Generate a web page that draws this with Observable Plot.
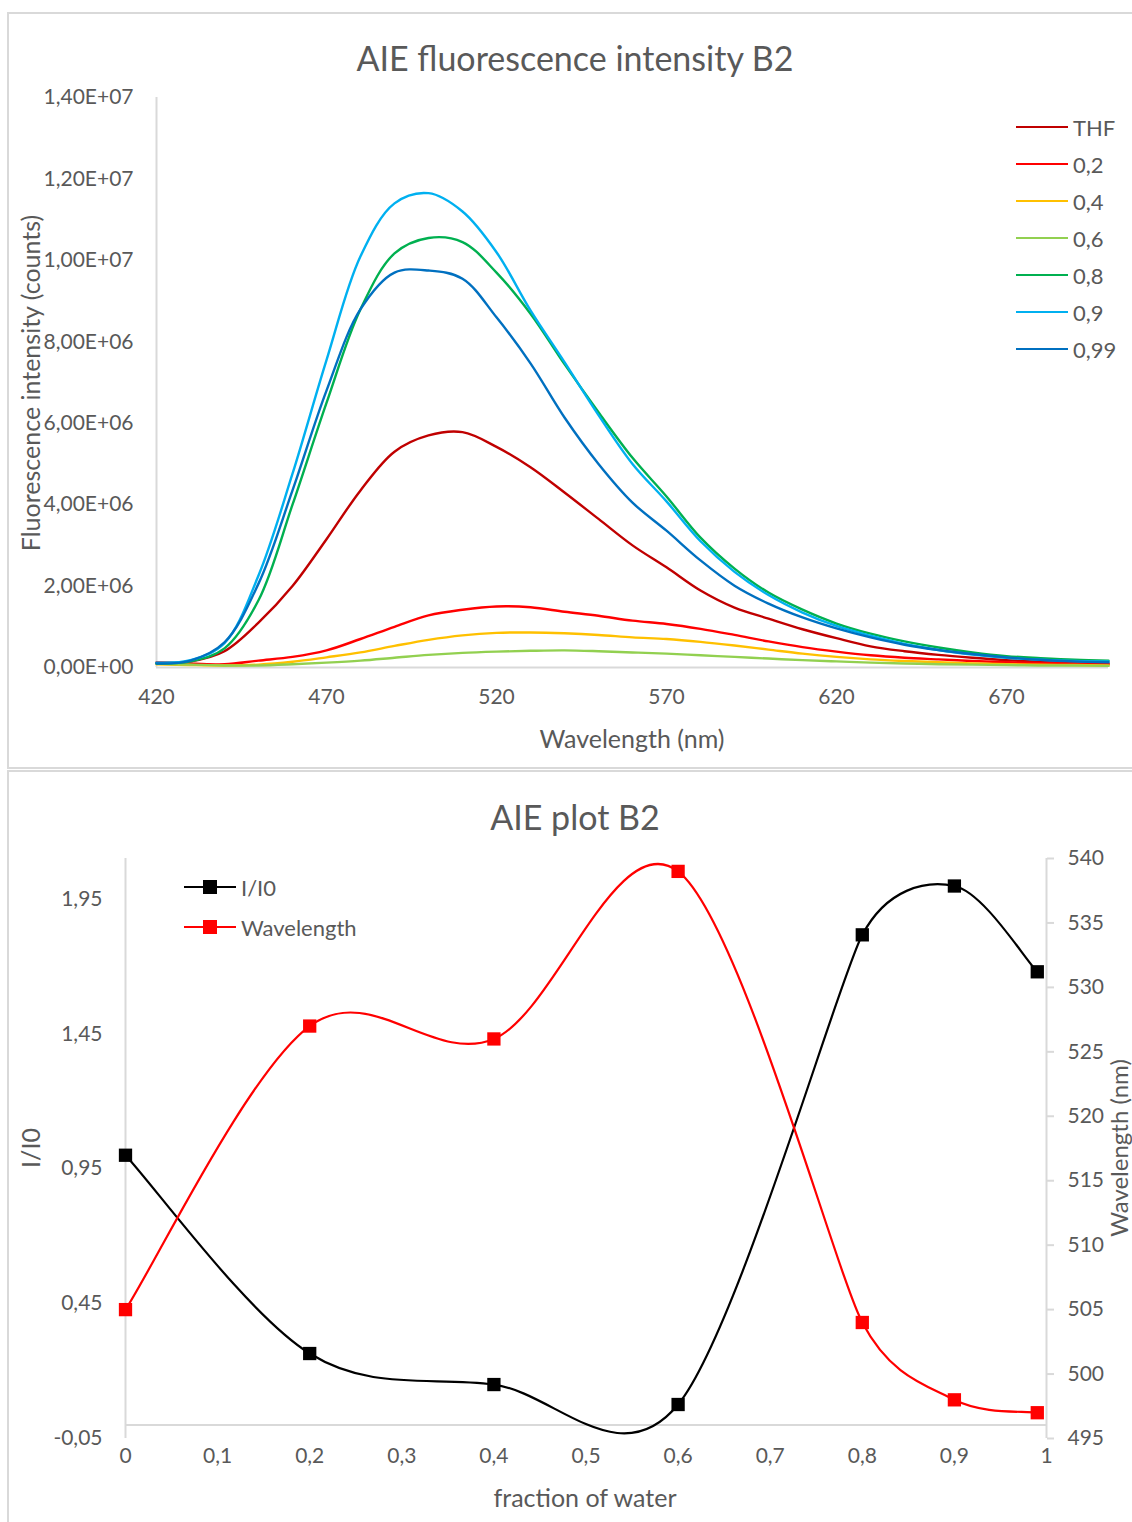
<!DOCTYPE html>
<html>
<head>
<meta charset="utf-8">
<script src="https://cdn.jsdelivr.net/npm/d3@7"></script>
<script src="https://cdn.jsdelivr.net/npm/@observablehq/plot@0.6"></script>
<style>
  html, body { margin: 0; padding: 0; background: #fff; }
  body { width: 1132px; height: 1522px; position: relative; overflow: hidden; font-family: Lato, "Open Sans", sans-serif; color: #595959; }
  .panel { position: absolute; border: 2px solid #d9d9d9; box-sizing: border-box; }
  .abs { position: absolute; white-space: nowrap; line-height: 1; }
  .c { transform: translate(-50%, -50%); }
  .rot { transform: translate(-50%, -50%) rotate(-90deg); }
  .plot { position: absolute; left: 0; }
  .leg-line { position: absolute; height: 2px; }
  .leg-text { position: absolute; font-size: 22px; transform: translateY(-50%); }
</style>
</head>
<body>
<div class="panel" style="left:7px; top:12px; width:1140px; height:757px;"></div>
<div class="panel" style="left:7px; top:770px; width:1140px; height:760px;"></div>
<div id="topChart" class="plot" style="top:0px;"></div>
<div id="bottomChart" class="plot" style="top:771px;"></div>
<div id="overlay"></div>
<script>
// ---------- Top chart data ----------
const wavelengths = [420,430,440,450,460,470,480,490,500,510,520,530,540,550,560,570,580,590,600,610,620,630,640,650,660,670,680,690,700];
// intensities in units of 1e6 counts
const sTHF  = [0.12,0.15,0.40,1.10,2.00,3.15,4.35,5.30,5.70,5.78,5.42,4.92,4.30,3.65,3.00,2.46,1.89,1.47,1.20,0.94,0.72,0.52,0.40,0.31,0.24,0.18,0.14,0.12,0.10];
const s02   = [0.12,0.10,0.08,0.17,0.26,0.42,0.70,1.00,1.28,1.42,1.50,1.48,1.37,1.27,1.15,1.07,0.95,0.80,0.64,0.50,0.39,0.30,0.24,0.20,0.16,0.13,0.11,0.10,0.08];
const s04   = [0.08,0.06,0.05,0.07,0.14,0.25,0.37,0.53,0.68,0.79,0.85,0.86,0.84,0.80,0.74,0.70,0.63,0.54,0.44,0.34,0.26,0.20,0.16,0.13,0.10,0.08,0.07,0.06,0.05];
const s06   = [0.10,0.07,0.05,0.05,0.08,0.12,0.17,0.24,0.31,0.36,0.39,0.41,0.42,0.40,0.37,0.34,0.30,0.26,0.22,0.18,0.15,0.12,0.10,0.08,0.07,0.06,0.05,0.05,0.04];
const s08   = [0.10,0.15,0.47,1.65,4.00,6.50,8.80,10.17,10.55,10.45,9.70,8.69,7.45,6.27,5.15,4.20,3.19,2.43,1.84,1.42,1.08,0.83,0.64,0.49,0.37,0.28,0.23,0.19,0.17];
const s09   = [0.12,0.18,0.60,2.26,4.76,7.55,10.10,11.40,11.65,11.20,10.20,8.77,7.50,6.20,5.00,4.08,3.10,2.35,1.78,1.35,1.02,0.78,0.58,0.43,0.32,0.24,0.19,0.16,0.15];
const s099  = [0.10,0.17,0.62,2.06,4.35,6.80,8.80,9.70,9.75,9.55,8.60,7.47,6.14,5.00,4.05,3.36,2.63,2.01,1.57,1.23,0.96,0.74,0.56,0.43,0.33,0.25,0.19,0.15,0.13];
const seriesNames  = ["THF","0,2","0,4","0,6","0,8","0,9","0,99"];
const seriesColors = ["#C00000","#FF0000","#FFC000","#92D050","#00B050","#00B0F0","#0070C0"];
const topXTicks = [420,470,520,570,620,670];
const topYTicks = [0,2e6,4e6,6e6,8e6,1e7,1.2e7,1.4e7];

// ---------- Bottom chart data ----------
const fractionWater = [0,0.2,0.4,0.6,0.8,0.9,0.99];
const ratioI = [1.00,0.265,0.15,0.076,1.817,1.998,1.68];
const peakWavelength = [505,527,526,539,504,498,497];
const leftTicks = [-0.05,0.45,0.95,1.45,1.95];
const rightTicks = [495,500,505,510,515,520,525,530,535,540];
const bottomXTicks = [0,0.1,0.2,0.3,0.4,0.5,0.6,0.7,0.8,0.9,1];

const FONT = 'Lato, "Open Sans", sans-serif';
const GRAY = "#d9d9d9";
const TXT = "#595959";

function sci(d) {
  if (d === 0) return "0,00E+00";
  const e = Math.floor(Math.log10(d) + 1e-9);
  const m = d / Math.pow(10, e);
  return m.toFixed(2).replace(".", ",") + "E+" + String(e).padStart(2, "0");
}
const comma = (d, n) => d.toFixed(n).replace(".", ",");

// Spreadsheet-style smoothed line (Bezier with 1/6 tangents, clamped for short segments)
function smoothCurve(context) {
  let pts = [];
  return {
    areaStart() {}, areaEnd() {},
    lineStart() { pts = []; },
    point(x, y) { pts.push([+x, +y]); },
    lineEnd() {
      const n = pts.length;
      if (!n) return;
      context.moveTo(pts[0][0], pts[0][1]);
      if (n === 1) return;
      const dist = (a, b) => Math.hypot(a[0] - b[0], a[1] - b[1]);
      const tan = [], fac = [];
      for (let i = 0; i < n; i++) {
        const p0 = pts[Math.max(0, i - 1)], p1 = pts[i], p2 = pts[Math.min(n - 1, i + 1)];
        const d02 = dist(p0, p2), d01 = dist(p0, p1), d12 = dist(p1, p2);
        let f = 1 / 6;
        if (i > 0 && i < n - 1) {
          if (!(d02 / 6 < d01 / 2 && d02 / 6 < d12 / 2)) f = Math.min(d01, d12) / (2 * d02);
        }
        tan.push([p2[0] - p0[0], p2[1] - p0[1]]);
        fac.push(f);
      }
      for (let i = 0; i < n - 1; i++) {
        const a = pts[i], b = pts[i + 1];
        const c1 = [a[0] + tan[i][0] * fac[i], a[1] + tan[i][1] * fac[i]];
        const c2 = [b[0] - tan[i + 1][0] * fac[i + 1], b[1] - tan[i + 1][1] * fac[i + 1]];
        context.bezierCurveTo(c1[0], c1[1], c2[0], c2[1], b[0], b[1]);
      }
    }
  };
}

// ---------- Top chart ----------
const spectra = [sTHF, s02, s04, s06, s08, s09, s099];
const rows = [];
spectra.forEach((vals, i) => vals.forEach((v, j) => rows.push({series: seriesNames[i], w: wavelengths[j], v: v * 1e6})));

const topPlot = Plot.plot({
  width: 1132, height: 770,
  marginLeft: 156, marginTop: 97, marginBottom: 103, marginRight: 24,
  style: {fontFamily: FONT, fontSize: "21px", color: TXT, background: "transparent", overflow: "visible"},
  x: {domain: [420, 700], label: null},
  y: {domain: [0, 1.4e7], label: null},
  color: {domain: seriesNames, range: seriesColors},
  marks: [
    Plot.ruleX([420], {stroke: GRAY, strokeWidth: 2}),
    Plot.ruleY([0], {stroke: GRAY, strokeWidth: 2}),
    Plot.axisX({ticks: topXTicks, tickSize: 0, tickPadding: 22, tickFormat: d => String(d), label: null, fill: TXT}),
    Plot.axisY({ticks: topYTicks, tickSize: 0, tickPadding: 23, tickFormat: sci, label: null, fill: TXT}),
    Plot.line(rows, {x: "w", y: "v", z: "series", stroke: "series", curve: "catmull-rom", strokeWidth: 2.4})
  ]
});
document.getElementById("topChart").appendChild(topPlot);

// ---------- Bottom chart ----------
const L0 = -0.05, L1 = 2.1, W0 = 495, W1 = 540;
const toLeft = w => L0 + (w - W0) / (W1 - W0) * (L1 - L0);
const fromLeft = v => W0 + (v - L0) / (L1 - L0) * (W1 - W0);
const ratioRows = fractionWater.map((f, i) => ({f, v: ratioI[i]}));
const waveRows = fractionWater.map((f, i) => ({f, v: toLeft(peakWavelength[i])}));

const bottomPlot = Plot.plot({
  width: 1132, height: 751,
  marginLeft: 125, marginTop: 87, marginBottom: 84, marginRight: 86,
  style: {fontFamily: FONT, fontSize: "21px", color: TXT, background: "transparent", overflow: "visible"},
  x: {domain: [0, 1], label: null},
  y: {domain: [L0, L1], label: null},
  marks: [
    Plot.ruleX([0], {stroke: GRAY, strokeWidth: 2}),
    Plot.ruleX([1], {stroke: GRAY, strokeWidth: 2}),
    Plot.ruleY([0], {stroke: GRAY, strokeWidth: 2}),
    Plot.axisY({ticks: leftTicks, tickSize: 0, tickPadding: 23, tickFormat: d => comma(d, 2), label: null, fill: TXT}),
    Plot.axisY({anchor: "right", ticks: rightTicks.map(toLeft), tickSize: 7, tickPadding: 14, stroke: GRAY, strokeWidth: 2,
      tickFormat: v => String(Math.round(fromLeft(v))), label: null, fill: TXT}),
    Plot.axisX({ticks: bottomXTicks, tickSize: 0, tickPadding: 10, tickFormat: d => d === 0 || d === 1 ? String(d) : comma(d, 1), label: null, fill: TXT}),
    Plot.line(ratioRows, {x: "f", y: "v", curve: smoothCurve, stroke: "#000", strokeWidth: 2.2}),
    Plot.line(waveRows, {x: "f", y: "v", curve: smoothCurve, stroke: "#FF0000", strokeWidth: 2.2}),
    Plot.dot(ratioRows, {x: "f", y: "v", symbol: "square", r: 7.5, fill: "#000"}),
    Plot.dot(waveRows, {x: "f", y: "v", symbol: "square", r: 7.5, fill: "#FF0000"})
  ]
});
document.getElementById("bottomChart").appendChild(bottomPlot);

// ---------- Text overlays & legends ----------
const ov = document.getElementById("overlay");
function addText(txt, x, y, size, cls) {
  const d = document.createElement("div");
  d.className = "abs " + cls;
  d.style.left = x + "px"; d.style.top = y + "px"; d.style.fontSize = size + "px";
  d.textContent = txt;
  ov.appendChild(d);
}
addText("AIE fluorescence intensity B2", 575, 58, 34, "c");
addText("Wavelength (nm)", 632, 738, 25, "c");
addText("Fluorescence intensity (counts)", 30, 383, 25, "rot");
addText("AIE plot B2", 575, 817, 34, "c");
addText("fraction of water", 585, 1497, 25, "c");
addText("I/I0", 30, 1148, 25, "rot");
addText("Wavelength (nm)", 1119, 1148, 24, "rot");

// top legend
seriesNames.forEach((name, i) => {
  const y = 127 + i * 37;
  const ln = document.createElement("div");
  ln.className = "leg-line";
  ln.style.left = "1016px"; ln.style.width = "52px"; ln.style.top = (y - 1) + "px"; ln.style.background = seriesColors[i];
  ov.appendChild(ln);
  const t = document.createElement("div");
  t.className = "leg-text";
  t.style.left = "1073px"; t.style.top = y + "px";
  t.textContent = name;
  ov.appendChild(t);
});

// bottom legend
const bottomLegend = [["I/I0", "#000"], ["Wavelength", "#FF0000"]];
bottomLegend.forEach(([name, col], i) => {
  const y = 887 + i * 40;
  const ln = document.createElement("div");
  ln.className = "leg-line";
  ln.style.left = "184px"; ln.style.width = "52px"; ln.style.top = (y - 1) + "px"; ln.style.background = col;
  ov.appendChild(ln);
  const sq = document.createElement("div");
  sq.style.position = "absolute"; sq.style.left = "203px"; sq.style.top = (y - 7) + "px";
  sq.style.width = "14px"; sq.style.height = "14px"; sq.style.background = col;
  ov.appendChild(sq);
  const t = document.createElement("div");
  t.className = "leg-text";
  t.style.left = "241px"; t.style.top = y + "px";
  t.textContent = name;
  ov.appendChild(t);
});
</script>
</body>
</html>
